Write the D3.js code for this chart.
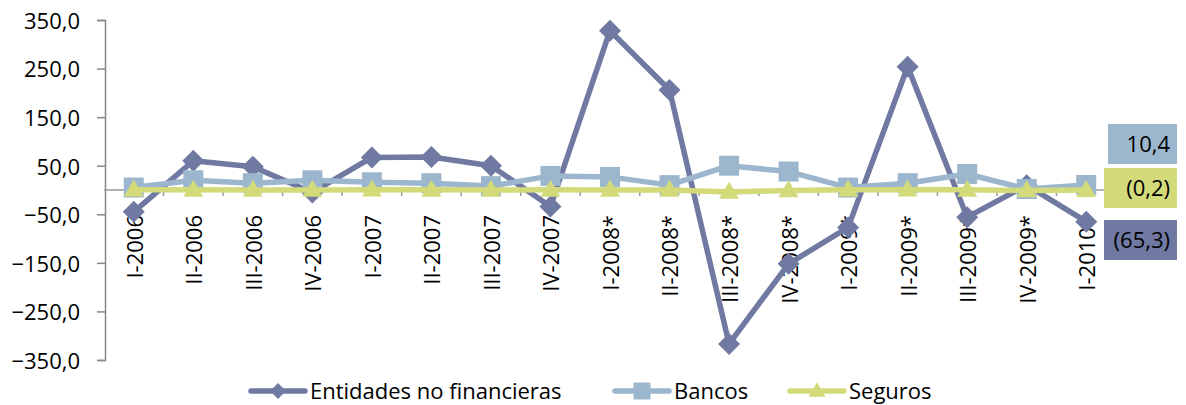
<!DOCTYPE html>
<html><head><meta charset="utf-8">
<script src="https://cdn.jsdelivr.net/npm/d3@7/dist/d3.min.js"></script>
<style>
body{margin:0;background:#fff;}
svg text{font-family:"Open Sans","Noto Sans",sans-serif;}
</style></head><body>
<svg id="c" width="1186" height="405"></svg>
<script>
const categories=["I-2006","II-2006","III-2006","IV-2006","I-2007","II-2007","III-2007","IV-2007","I-2008*","II-2008*","III-2008*","IV-2008*","I-2009*","II-2009*","III-2009*","IV-2009*","I-2010*"];
const entidades=[-45,60,48,-5,67,68,50,-34,328,206,-317,-152,-77,254,-56,10,-65.3];
const bancos=[5,20,14,20,16,14,8,29,27,10,50,38,5,14,33,2,10.4];
const seguros=[0.5,0.3,0.2,0.1,0.5,0.3,0.2,0.3,0.2,0.1,-4,-1,0.5,0.5,0.3,-1,-0.2];
const yTicks=[350,250,150,50,-50,-150,-250,-350];
const seriesNames=["Entidades no financieras","Bancos","Seguros"];
const colors=["#6F79A1","#9CB6CD","#D2DA7A"];
const series=[entidades,bancos,seguros];

function marker(k,s){
  const h=s/2;
  if(k===0) return `M0,${-h}L${h},0L0,${h}L${-h},0Z`;
  if(k===1) return `M${-h},${-h}H${h}V${h}H${-h}Z`;
  const t=s*0.85;
  return `M0,${-t*0.6}L${h},${t*0.4}L${-h},${t*0.4}Z`;
}

const svg=d3.select("#c");
const x=d3.scaleBand().domain(categories).range([104,1116]);
const y=d3.scaleLinear().domain([-350,350]).range([360,20]);
const fmt=v=>d3.format(".1f")(v).replace(".",",");
const cx=c=>x(c)+x.bandwidth()/2;

// y axis
const ya=svg.append("g").attr("transform","translate(105,0)")
  .call(d3.axisLeft(y).tickValues(yTicks).tickSize(8).tickFormat(fmt));
ya.select(".domain").attr("stroke","#888").attr("stroke-width",1.5);
ya.selectAll(".tick line").attr("stroke","#888").attr("stroke-width",1.5);
ya.selectAll(".tick text").attr("font-size",22).attr("fill","#000").attr("x",-25).attr("dy","0.38em");

// x axis line at zero
const x0=y(0);
svg.append("line").attr("x1",104).attr("x2",1116).attr("y1",x0).attr("y2",x0).attr("stroke","#999").attr("stroke-width",1.5);
const bounds=categories.map(c=>x(c)).concat([x(categories[categories.length-1])+x.bandwidth()]);
svg.append("g").selectAll("line").data(bounds.slice(1)).join("line")
  .attr("x1",d=>d).attr("x2",d=>d).attr("y1",x0).attr("y2",x0+6).attr("stroke","#999").attr("stroke-width",1.5);

// x labels
svg.append("g").selectAll("text").data(categories).join("text")
  .attr("transform",d=>`translate(${cx(d)+1},215) rotate(-90)`)
  .attr("text-anchor","end").attr("dy","0.36em").attr("font-size",22).attr("fill","#000").text(d=>d);

// lines
const line=d3.line().x((d,i)=>cx(categories[i])).y(d=>y(d));
series.forEach((s,k)=>{
  const g=svg.append("g");
  g.append("path").datum(s).attr("d",line).attr("fill","none").attr("stroke",colors[k]).attr("stroke-width",5.5).attr("stroke-linejoin","round");
  g.selectAll("path.m").data(s).join("path").attr("class","m")
    .attr("d",marker(k,k===0?22:20))
    .attr("transform",(d,i)=>`translate(${cx(categories[i])},${y(d)})`)
    .attr("fill",colors[k]);
});

// right value boxes
const lastFmt=v=>{const s=fmt(Math.abs(v));return v<0?`(${s})`:s;};
const boxes=[{v:bancos[16],c:colors[1],x:1108,y:124},{v:seguros[16],c:colors[2],x:1104,y:168},{v:entidades[16],c:colors[0],x:1104,y:220}];
boxes.forEach(b=>{
  svg.append("rect").attr("x",b.x).attr("y",b.y).attr("width",1177-b.x).attr("height",40).attr("fill",b.c);
  svg.append("text").attr("x",1176-6).attr("y",b.y+20).attr("dy","0.36em").attr("text-anchor","end").attr("font-size",22).attr("fill","#000").text(lastFmt(b.v));
});

// legend
const leg=[{x:251,tx:310},{x:615,tx:674},{x:790,tx:849}];
seriesNames.forEach((n,k)=>{
  const g=svg.append("g");
  const ly=391;
  g.append("line").attr("x1",leg[k].x).attr("x2",leg[k].x+54).attr("y1",ly).attr("y2",ly).attr("stroke",colors[k]).attr("stroke-width",5.5).attr("stroke-linecap","round");
  g.append("path").attr("d",marker(k,k===0?16:17)).attr("transform",`translate(${leg[k].x+27},${ly})`).attr("fill",colors[k]);
  g.append("text").attr("x",leg[k].tx).attr("y",ly).attr("dy","0.36em").attr("font-size",22).attr("fill","#000").text(n);
});
</script></body></html>
